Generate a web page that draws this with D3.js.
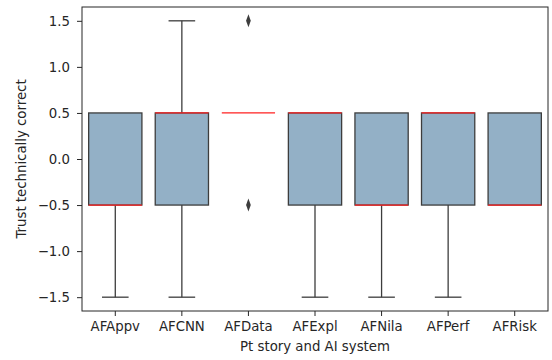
<!DOCTYPE html>
<html>
<head>
<meta charset="utf-8">
<script src="https://cdn.jsdelivr.net/npm/d3@7"></script>
<style>
  body { margin: 0; background: #fff; }
  svg text { font-family: "DejaVu Sans", sans-serif; }
</style>
</head>
<body>
<div id="chart"></div>
<script>
// categories and box statistics
var categories = ["AFAppv", "AFCNN", "AFData", "AFExpl", "AFNila", "AFPerf", "AFRisk"];
var whiskerLow  = [-1.5, -1.5, 0.5, -1.5, -1.5, -1.5, -0.5];
var q1Values    = [-0.5, -0.5, 0.5, -0.5, -0.5, -0.5, -0.5];
var medians     = [-0.5,  0.5, 0.5,  0.5, -0.5,  0.5, -0.5];
var q3Values    = [ 0.5,  0.5, 0.5,  0.5,  0.5,  0.5,  0.5];
var whiskerHigh = [ 0.5,  1.5, 0.5,  0.5,  0.5,  0.5,  0.5];
var outliers    = [[], [], [1.5, -0.5], [], [], [], []];
var yTicks = [-1.5, -1.0, -0.5, 0.0, 0.5, 1.0, 1.5];

var margin = {top: 7, right: 4, bottom: 49, left: 82},
    width = 552 - margin.left - margin.right,
    height = 360 - margin.top - margin.bottom;

var svg = d3.select("#chart").append("svg")
    .attr("width", 552)
    .attr("height", 360)
  .append("g")
    .attr("transform", "translate(" + margin.left + "," + margin.top + ")");

var x = d3.scaleBand().domain(categories).range([0, width]).paddingInner(0.2).paddingOuter(0.1);
var y = d3.scaleLinear().domain([-1.65, 1.65]).range([height, 0]);

var data = categories.map(function(c, i) {
    return {cat: c, lo: whiskerLow[i], q1: q1Values[i], med: medians[i],
            q3: q3Values[i], hi: whiskerHigh[i], out: outliers[i]};
});

var edge = "#3d3d3d";
var boxes = svg.selectAll(".box").data(data).enter().append("g")
    .attr("class", "box");

// whiskers
boxes.append("line")
    .attr("x1", function(d) { return x(d.cat) + x.bandwidth() / 2; })
    .attr("x2", function(d) { return x(d.cat) + x.bandwidth() / 2; })
    .attr("y1", function(d) { return y(d.lo); })
    .attr("y2", function(d) { return y(d.q1); })
    .attr("stroke", edge).attr("stroke-width", 1.3);
boxes.append("line")
    .attr("x1", function(d) { return x(d.cat) + x.bandwidth() / 2; })
    .attr("x2", function(d) { return x(d.cat) + x.bandwidth() / 2; })
    .attr("y1", function(d) { return y(d.q3); })
    .attr("y2", function(d) { return y(d.hi); })
    .attr("stroke", edge).attr("stroke-width", 1.3);

// caps (only where a whisker sticks out)
boxes.filter(function(d) { return d.lo < d.q1; }).append("line")
    .attr("x1", function(d) { return x(d.cat) + x.bandwidth() * 0.25; })
    .attr("x2", function(d) { return x(d.cat) + x.bandwidth() * 0.75; })
    .attr("y1", function(d) { return y(d.lo); })
    .attr("y2", function(d) { return y(d.lo); })
    .attr("stroke", edge).attr("stroke-width", 1.3);
boxes.filter(function(d) { return d.hi > d.q3; }).append("line")
    .attr("x1", function(d) { return x(d.cat) + x.bandwidth() * 0.25; })
    .attr("x2", function(d) { return x(d.cat) + x.bandwidth() * 0.75; })
    .attr("y1", function(d) { return y(d.hi); })
    .attr("y2", function(d) { return y(d.hi); })
    .attr("stroke", edge).attr("stroke-width", 1.3);

// boxes
boxes.filter(function(d) { return d.q3 > d.q1; }).append("rect")
    .attr("x", function(d) { return x(d.cat); })
    .attr("width", x.bandwidth())
    .attr("y", function(d) { return y(d.q3); })
    .attr("height", function(d) { return y(d.q1) - y(d.q3); })
    .attr("fill", "#93b0c6")
    .attr("stroke", edge).attr("stroke-width", 1.3);

// medians
boxes.append("line")
    .attr("x1", function(d) { return x(d.cat); })
    .attr("x2", function(d) { return x(d.cat) + x.bandwidth(); })
    .attr("y1", function(d) { return y(d.med); })
    .attr("y2", function(d) { return y(d.med); })
    .attr("stroke", "#ff2020").attr("stroke-width", 1.3);

// outliers as diamonds
var diamond = d3.symbol().type(d3.symbolDiamond).size(34);
boxes.each(function(d) {
    d3.select(this).selectAll(".flier").data(d.out).enter().append("path")
        .attr("class", "flier")
        .attr("d", diamond)
        .attr("transform", function(v) {
            return "translate(" + (x(d.cat) + x.bandwidth() / 2) + "," + y(v) + ") scale(0.75,1.2)";
        })
        .attr("fill", edge);
});

// axes
var xAxis = svg.append("g")
    .attr("transform", "translate(0," + height + ")")
    .call(d3.axisBottom(x).tickSizeOuter(0).tickSize(5).tickPadding(6));
var yAxis = svg.append("g")
    .call(d3.axisLeft(y).tickValues(yTicks).tickSizeOuter(0).tickSize(5).tickPadding(7)
        .tickFormat(function(v) { return d3.format(".1f")(v).replace("-", "\u2212"); }));

[xAxis, yAxis].forEach(function(a) {
    a.selectAll("text").attr("font-size", 13.3).attr("fill", "#262626")
        .style("font-family", "DejaVu Sans, sans-serif");
    a.selectAll("line").attr("stroke", "#262626").attr("stroke-width", 1);
    a.select(".domain").remove();
});

// frame
svg.append("rect")
    .attr("width", width).attr("height", height)
    .attr("fill", "none").attr("stroke", "#262626").attr("stroke-width", 1);

// axis labels
svg.append("text")
    .attr("x", width / 2).attr("y", height + 39.5)
    .attr("text-anchor", "middle").attr("font-size", 13.3).attr("fill", "#262626")
    .text("Pt story and AI system");
svg.append("text")
    .attr("transform", "rotate(-90)")
    .attr("x", -height / 2).attr("y", -60.3).attr("dy", "0.35em")
    .attr("text-anchor", "middle").attr("font-size", 13.3).attr("fill", "#262626")
    .text("Trust technically correct");
</script>
</body>
</html>
